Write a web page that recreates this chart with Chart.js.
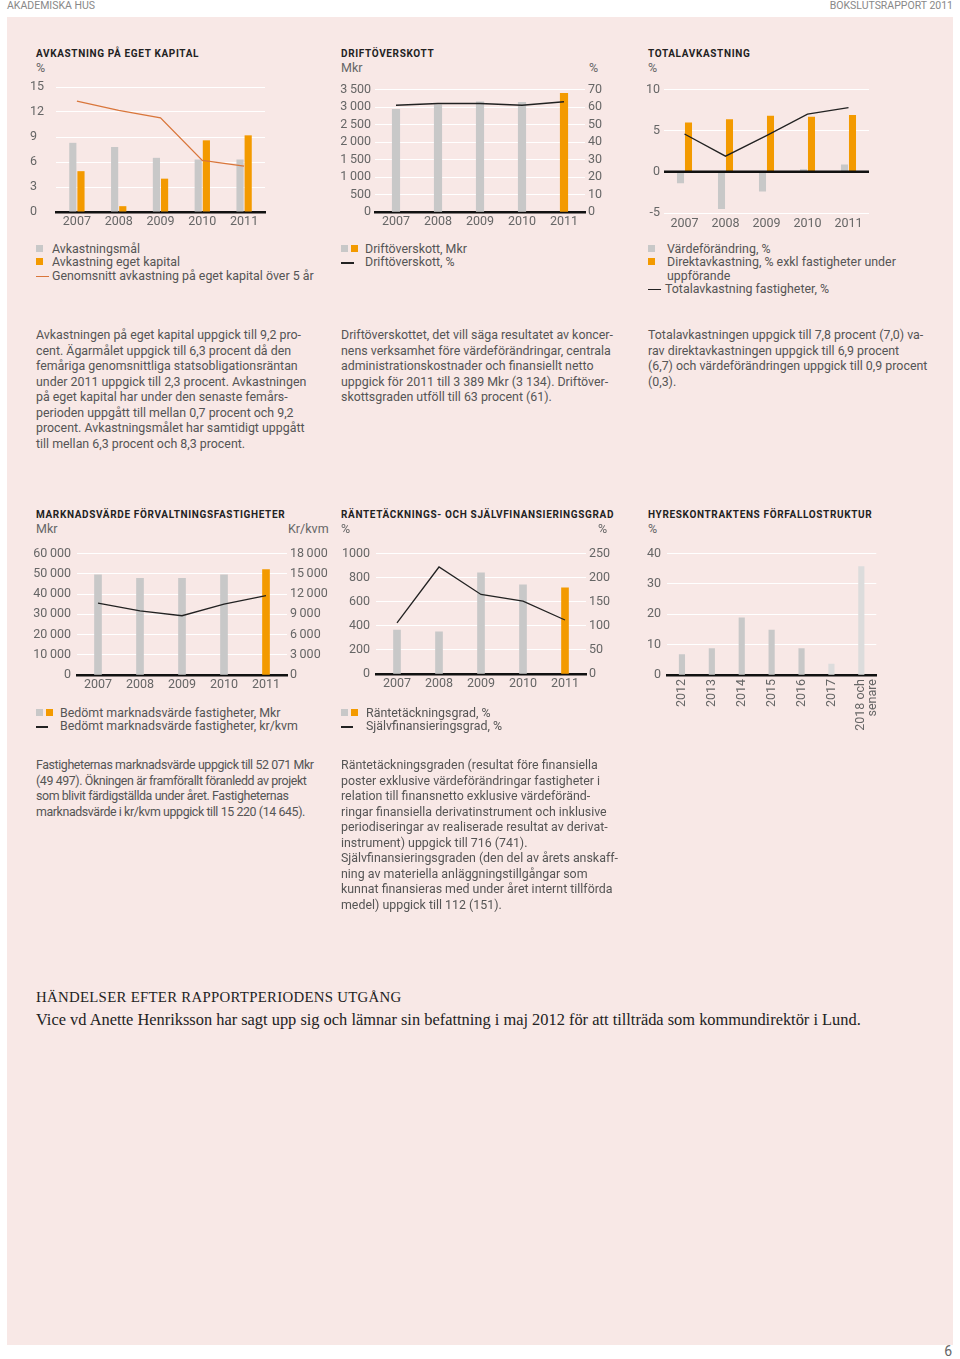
<!DOCTYPE html>
<html lang="sv">
<head>
<meta charset="utf-8">
<title>Bokslutsrapport 2011</title>
<script src="https://cdn.jsdelivr.net/npm/chart.js@4.4.1/dist/chart.umd.min.js"></script>
<style>
body{margin:0;width:960px;height:1359px;position:relative;background:#fff;font-family:Roboto,sans-serif;color:#555;overflow:hidden}
.abs{position:absolute}
#panel{left:7px;top:17px;width:946px;height:1328px;background:#f8e8e6}
.hdr{top:0;font-size:10.5px;line-height:12px;color:#888}
.title{font-size:10px;font-weight:700;color:#222;letter-spacing:.65px;line-height:12px;white-space:nowrap}
.unit{font-size:12.5px;line-height:13px;color:#666;white-space:nowrap}
.txt{font-size:12.4px;line-height:15.5px;color:#555;white-space:nowrap}
.leg{font-size:12.4px;line-height:13.3px;color:#555;white-space:nowrap}
.lr{position:relative}
.sq{position:absolute;top:3px;width:7px;height:7px}
.ln{position:absolute;top:7px;height:1.3px}
.g{background:#c8c8c8}.o{background:#f39a00}.k{background:#222}.r{background:#d9763b}
canvas{position:absolute}
.serif{font-family:"Liberation Serif",serif;color:#222;white-space:nowrap}
</style>
</head>
<body>
<div class="abs hdr" style="left:7px">AKADEMISKA HUS</div>
<div class="abs hdr" style="right:7px">BOKSLUTSRAPPORT 2011</div>
<div id="panel" class="abs"></div>

<!-- rad 1 -->
<div class="abs title" style="left:36px;top:48px">AVKASTNING PÅ EGET KAPITAL</div>
<div class="abs unit" style="left:36px;top:61px">%</div>
<canvas id="c1" width="250" height="160" style="left:30px;top:78px"></canvas>

<div class="abs title" style="left:341px;top:48px">DRIFTÖVERSKOTT</div>
<div class="abs unit" style="left:341px;top:61px">Mkr</div>
<div class="abs unit" style="left:589px;top:61px">%</div>
<canvas id="c2" width="280" height="160" style="left:333px;top:78px"></canvas>

<div class="abs title" style="left:648px;top:48px">TOTALAVKASTNING</div>
<div class="abs unit" style="left:648px;top:61px">%</div>
<canvas id="c3" width="245" height="160" style="left:640px;top:78px"></canvas>

<div class="abs leg" style="left:36px;top:242px">
  <div class="lr" style="padding-left:16px"><i class="sq g" style="left:0"></i>Avkastningsmål</div>
  <div class="lr" style="padding-left:16px"><i class="sq o" style="left:0"></i>Avkastning eget kapital</div>
  <div class="lr" style="padding-left:16px"><i class="ln r" style="left:0;width:13px"></i>Genomsnitt avkastning på eget kapital över 5 år</div>
</div>
<div class="abs leg" style="left:341px;top:242px">
  <div class="lr" style="padding-left:24px"><i class="sq g" style="left:0"></i><i class="sq o" style="left:10px"></i>Driftöverskott, Mkr</div>
  <div class="lr" style="padding-left:24px"><i class="ln k" style="left:0;width:13px"></i>Driftöverskott, %</div>
</div>
<div class="abs leg" style="left:648px;top:242px">
  <div class="lr" style="padding-left:19px"><i class="sq g" style="left:0"></i>Värdeförändring, %</div>
  <div class="lr" style="padding-left:19px"><i class="sq o" style="left:0"></i>Direktavkastning, % exkl fastigheter under<br>uppförande</div>
  <div class="lr" style="padding-left:17px"><i class="ln k" style="left:0;width:13px"></i>Totalavkastning fastigheter, %</div>
</div>

<div class="abs txt" style="left:36px;top:327px">Avkastningen på eget kapital uppgick till 9,2 pro-<br>cent. Ägarmålet uppgick till 6,3 procent då den<br>femåriga genomsnittliga statsobligationsräntan<br>under 2011 uppgick till 2,3 procent. Avkastningen<br>på eget kapital har under den senaste femårs-<br>perioden uppgått till mellan 0,7 procent och 9,2<br>procent. Avkastningsmålet har samtidigt uppgått<br>till mellan 6,3 procent och 8,3 procent.</div>
<div class="abs txt" style="left:341px;top:327px">Driftöverskottet, det vill säga resultatet av koncer-<br>nens verksamhet före värdeförändringar, centrala<br>administrationskostnader och finansiellt netto<br>uppgick för 2011 till 3 389 Mkr (3 134). Driftöver-<br>skottsgraden utföll till 63 procent (61).</div>
<div class="abs txt" style="left:648px;top:327px">Totalavkastningen uppgick till 7,8 procent (7,0) va-<br>rav direktavkastningen uppgick till 6,9 procent<br>(6,7) och värdeförändringen uppgick till 0,9 procent<br>(0,3).</div>

<!-- rad 2 -->
<div class="abs title" style="left:36px;top:509px">MARKNADSVÄRDE FÖRVALTNINGSFASTIGHETER</div>
<div class="abs unit" style="left:36px;top:522px">Mkr</div>
<div class="abs unit" style="left:288px;top:522px">Kr/kvm</div>
<canvas id="c4" width="305" height="160" style="left:30px;top:540px"></canvas>

<div class="abs title" style="left:341px;top:509px">RÄNTETÄCKNINGS- OCH SJÄLVFINANSIERINGSGRAD</div>
<div class="abs unit" style="left:341px;top:522px">%</div>
<div class="abs unit" style="left:598px;top:522px">%</div>
<canvas id="c5" width="290" height="160" style="left:333px;top:540px"></canvas>

<div class="abs title" style="left:648px;top:509px">HYRESKONTRAKTENS FÖRFALLOSTRUKTUR</div>
<div class="abs unit" style="left:648px;top:522px">%</div>
<canvas id="c6" width="250" height="200" style="left:640px;top:540px"></canvas>

<div class="abs leg" style="left:36px;top:706px">
  <div class="lr" style="padding-left:24px"><i class="sq g" style="left:0"></i><i class="sq o" style="left:10px"></i>Bedömt marknadsvärde fastigheter, Mkr</div>
  <div class="lr" style="padding-left:24px"><i class="ln k" style="left:0;width:12px"></i>Bedömt marknadsvärde fastigheter, kr/kvm</div>
</div>
<div class="abs leg" style="left:341px;top:706px">
  <div class="lr" style="padding-left:25px"><i class="sq g" style="left:0"></i><i class="sq o" style="left:10px"></i>Räntetäckningsgrad, %</div>
  <div class="lr" style="padding-left:25px"><i class="ln k" style="left:0;width:12px"></i>Självfinansieringsgrad, %</div>
</div>

<div class="abs txt" style="left:36px;top:757px;letter-spacing:-.4px">Fastigheternas marknadsvärde uppgick till 52 071 Mkr<br>(49 497). Ökningen är framförallt föranledd av projekt<br>som blivit färdigställda under året. Fastigheternas<br>marknadsvärde i kr/kvm uppgick till 15 220 (14 645).</div>
<div class="abs txt" style="left:341px;top:757px">Räntetäckningsgraden (resultat före finansiella<br>poster exklusive värdeförändringar fastigheter i<br>relation till finansnetto exklusive värdeföränd-<br>ringar finansiella derivatinstrument och inklusive<br>periodiseringar av realiserade resultat av derivat-<br>instrument) uppgick till 716 (741).<br>Självfinansieringsgraden (den del av årets anskaff-<br>ning av materiella anläggningstillgångar som<br>kunnat finansieras med under året internt tillförda<br>medel) uppgick till 112 (151).</div>

<div class="abs serif" style="left:36px;top:989px;font-size:14.8px;letter-spacing:.3px">HÄNDELSER EFTER RAPPORTPERIODENS UTGÅNG</div>
<div class="abs serif" style="left:36px;top:1010px;font-size:16.4px">Vice vd Anette Henriksson har sagt upp sig och lämnar sin befattning i maj 2012 för att tillträda som kommundirektör i Lund.</div>

<div class="abs" style="right:8px;top:1343px;font-size:14px;color:#666">6</div>

<script>
// data
const years = ['2007', '2008', '2009', '2010', '2011'];

const avkMal = [8.3, 7.8, 6.5, 6.3, 6.3];
const avkEget = [4.9, 0.7, 4.0, 8.6, 9.2];
const avkSnitt = [13.3, 12.2, 11.3, 6.2, 5.5];

const driftMkr = [2930, 3060, 3150, 3134, 3389];
const driftPct = [61, 62, 62, 61, 63];

const vardeForandring = [-1.4, -4.5, -2.4, 0.3, 0.9];
const direktAvk = [6.0, 6.4, 6.8, 6.7, 6.9];
const totalAvk = [4.6, 1.9, 4.4, 7.0, 7.8];

const marknadMkr = [49500, 47800, 47800, 49497, 52071];
const marknadKvm = [10650, 9500, 8780, 10500, 11770];

const rantetackning = [365, 350, 840, 741, 716];
const sjalvfin = [106, 222, 165, 151, 112];

const hyresAr = ['2012', '2013', '2014', '2015', '2016', '2017', ['2018 och', 'senare']];
const hyresPct = [6.7, 8.7, 18.8, 14.8, 8.7, 3.6, 35.7];

const GRAY = '#c8c8c8', LIGHT = '#dcdcdc', ORANGE = '#f39a00', BLACK = '#222';
const lastOrange = n => Array.from({length:n}, (_, i) => i === n-1 ? ORANGE : GRAY);

Chart.defaults.font.family = 'Roboto, sans-serif';
Chart.defaults.font.size = 12.5;
Chart.defaults.color = '#666';
Chart.defaults.animation = false;
Chart.defaults.plugins.legend.display = false;
Chart.defaults.plugins.tooltip.enabled = false;

const thin = v => String(v).replace(/\B(?=(\d{3})+(?!\d))/g, '\u2009');
const plain = v => String(v);

function xAxis(h, pad, border=true){
  return {
    type:'category', offset:true, z:1,
    grid:{display:false, drawTicks:false},
    border:{display:border, color:'#111', width:2.5},
    ticks:{padding:pad, maxRotation:0, autoSkip:false, color:'#666'},
    afterFit: s => { s.height = h; }
  };
}
function yAxis(pos, min, max, step, w, pad, extra={}){
  return {
    position:pos, min, max,
    grid:{display: pos==='left', color:'#fff', lineWidth:1, drawTicks:false},
    border:{display:false},
    ticks:{stepSize:step, padding:pad, color:'#666', autoSkip:false, callback:plain, ...(extra.ticks||{})},
    afterFit: s => { s.width = w; }
  };
}
const line = (data, color, axis='y') => ({
  type:'line', data, borderColor:color, borderWidth:1.3, pointRadius:0, tension:0, yAxisID:axis, order:0
});

// avkastning på eget kapital
new Chart(document.getElementById('c1'), {
  type:'bar',
  data:{ labels:years, datasets:[
    line(avkSnitt, '#d9763b'),
    { data:avkMal, backgroundColor:GRAY, order:1, categoryPercentage:0.39, barPercentage:0.88 },
    { data:avkEget, backgroundColor:ORANGE, order:1, categoryPercentage:0.39, barPercentage:0.88 }
  ]},
  options:{ responsive:false, layout:{padding:{top:9, right:15, bottom:0, left:0}},
    scales:{ x:xAxis(26, 2), y:yAxis('left', 0, 15, 3, 26, 0, {ticks:{crossAlign:'far'}}) } }
});

// driftöverskott
new Chart(document.getElementById('c2'), {
  type:'bar',
  data:{ labels:years, datasets:[
    line(driftPct, BLACK, 'y2'),
    { data:driftMkr, backgroundColor:lastOrange(5), order:1, barThickness:7.5 }
  ]},
  options:{ responsive:false, layout:{padding:{top:9, right:0, bottom:0, left:0}},
    scales:{ x:xAxis(26, 2),
      y:yAxis('left', 0, 3500, 500, 42, 4, {ticks:{callback:thin}}),
      y2:yAxis('right', 0, 70, 10, 28, 3) } }
});

// totalavkastning
const zeroLine = {
  id:'zeroLine',
  afterDatasetsDraw(c){
    const y = c.scales.y.getPixelForValue(0), ctx = c.ctx;
    ctx.save(); ctx.strokeStyle = '#111'; ctx.lineWidth = 2.5;
    ctx.beginPath(); ctx.moveTo(c.chartArea.left, y); ctx.lineTo(c.chartArea.right, y); ctx.stroke();
    ctx.restore();
  }
};
new Chart(document.getElementById('c3'), {
  type:'bar',
  data:{ labels:years, datasets:[
    line(totalAvk, BLACK),
    { data:vardeForandring, backgroundColor:GRAY, order:1, categoryPercentage:0.39, barPercentage:0.88 },
    { data:direktAvk, backgroundColor:ORANGE, order:1, categoryPercentage:0.39, barPercentage:0.88 }
  ]},
  options:{ responsive:false, layout:{padding:{top:10, right:16, bottom:0, left:0}},
    scales:{ x:xAxis(25, 3, false), y:yAxis('left', -5, 10, 5, 24, 4) } },
  plugins:[zeroLine]
});

// marknadsvärde
new Chart(document.getElementById('c4'), {
  type:'bar',
  data:{ labels:years, datasets:[
    line(marknadKvm, BLACK, 'y2'),
    { data:marknadMkr, backgroundColor:lastOrange(5), order:1, barThickness:7 }
  ]},
  options:{ responsive:false, layout:{padding:{top:10, right:0, bottom:0, left:0}},
    scales:{ x:xAxis(25, 2),
      y:yAxis('left', 0, 60000, 10000, 47, 6, {ticks:{callback:thin}}),
      y2:yAxis('right', 0, 18000, 3000, 48, 3, {ticks:{callback:thin}}) } }
});

// räntetäckning / självfinansiering
new Chart(document.getElementById('c5'), {
  type:'bar',
  data:{ labels:years, datasets:[
    line(sjalvfin, BLACK, 'y2'),
    { data:rantetackning, backgroundColor:lastOrange(5), order:1, barThickness:7 }
  ]},
  options:{ responsive:false, layout:{padding:{top:9, right:0, bottom:0, left:0}},
    scales:{ x:xAxis(26, 2),
      y:yAxis('left', 0, 1000, 200, 43, 6),
      y2:yAxis('right', 0, 250, 50, 37, 3) } }
});

// hyreskontrakt
const x6 = xAxis(65, 4);
x6.ticks.maxRotation = 90; x6.ticks.minRotation = 90;
x6.ticks.font = { lineHeight:0.95 };
new Chart(document.getElementById('c6'), {
  type:'bar',
  data:{ labels:hyresAr, datasets:[
    { data:hyresPct, backgroundColor:[GRAY, GRAY, GRAY, GRAY, GRAY, LIGHT, LIGHT], barThickness:5.5 }
  ]},
  options:{ responsive:false, layout:{padding:{top:10, right:13, bottom:0, left:0}},
    scales:{ x:x6, y:yAxis('left', 0, 40, 10, 27, 6) } }
});
</script>
</body>
</html>
